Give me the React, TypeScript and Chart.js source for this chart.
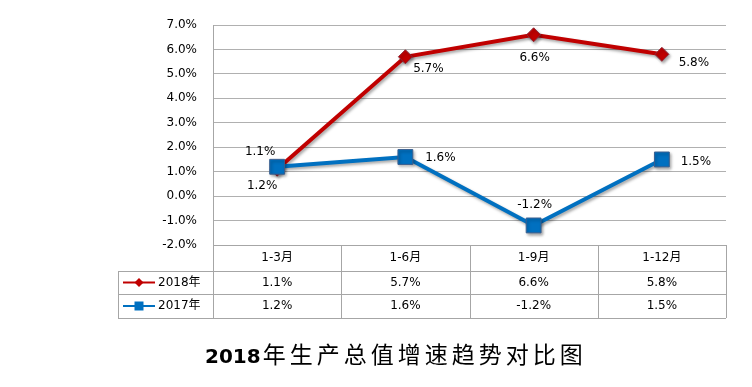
import React, { useEffect, useRef } from "react";
import { Chart, registerables } from "chart.js";

Chart.register(...registerables);

const categories = ["1-3月", "1-6月", "1-9月", "1-12月"];
const series2018 = [1.1, 5.7, 6.6, 5.8];
const series2017 = [1.2, 1.6, -1.2, 1.5];
const seriesNames = ["2018年", "2017年"];
const titleYear = "2018";
const titleRest = "年生产总值增速趋势对比图";

const RED = "#c00000";
const BLUE = "#0070c0";
const FONT = "'DejaVu Sans', 'Noto Sans CJK SC', sans-serif";

const fmt = (v: number) => v.toFixed(1) + "%";

const shadowPlugin = {
  id: "shadowPlugin",
  beforeDatasetDraw(chart: any) {
    const ctx = chart.ctx;
    ctx.save();
    ctx.shadowColor = "rgba(0,0,0,0.35)";
    ctx.shadowBlur = 3;
    ctx.shadowOffsetX = 1.5;
    ctx.shadowOffsetY = 2;
  },
  afterDatasetDraw(chart: any) {
    chart.ctx.restore();
  },
};

const pointLabelPlugin = {
  id: "pointLabels",
  afterDatasetsDraw(chart: any, _args: any, opts: any) {
    const ctx = chart.ctx;
    ctx.save();
    ctx.font = "12px " + FONT;
    ctx.fillStyle = "#000";
    ctx.textAlign = "center";
    ctx.textBaseline = "middle";
    chart.data.datasets.forEach((ds: any, di: number) => {
      const meta = chart.getDatasetMeta(di);
      const offs = opts.offsets[di];
      meta.data.forEach((pt: any, i: number) => {
        const [dx, dy] = offs[i];
        ctx.fillText(fmt(ds.data[i]), pt.x + dx, pt.y + dy);
      });
    });
    ctx.restore();
  },
};

const tablePlugin = {
  id: "dataTable",
  afterDraw(chart: any, _args: any, opts: any) {
    const ctx = chart.ctx;
    const xs = chart.scales.x;
    const area = chart.chartArea;
    const n = categories.length;
    const colW = (area.right - area.left) / n;
    const top = area.bottom;
    const rows = [top, top + 26, top + 49, top + 73];
    const legLeft = area.left - opts.legendWidth;
    ctx.save();
    ctx.strokeStyle = "#a6a6a6";
    ctx.lineWidth = 1;
    const hl = (y: number, x0: number, x1: number) => {
      ctx.beginPath();
      ctx.moveTo(x0, Math.round(y) + 0.5);
      ctx.lineTo(x1, Math.round(y) + 0.5);
      ctx.stroke();
    };
    const vl = (x: number, y0: number, y1: number) => {
      ctx.beginPath();
      ctx.moveTo(Math.round(x) + 0.5, y0);
      ctx.lineTo(Math.round(x) + 0.5, y1);
      ctx.stroke();
    };
    hl(rows[0], area.left, area.right);
    hl(rows[1], legLeft, area.right);
    hl(rows[2], legLeft, area.right);
    hl(rows[3], legLeft, area.right);
    vl(legLeft, rows[1], rows[3]);
    for (let i = 0; i <= n; i++) {
      vl(area.left + i * colW, rows[0], rows[3]);
    }
    ctx.font = "12px " + FONT;
    ctx.fillStyle = "#000";
    ctx.textAlign = "center";
    ctx.textBaseline = "middle";
    categories.forEach((c, i) => {
      const cx = xs.getPixelForValue(i);
      ctx.fillText(c, cx, (rows[0] + rows[1]) / 2);
    });
    chart.data.datasets.forEach((ds: any, di: number) => {
      const cy = (rows[di + 1] + rows[di + 2]) / 2;
      ds.data.forEach((v: number, i: number) => {
        ctx.fillText(fmt(v), xs.getPixelForValue(i), cy);
      });
      // legend key
      const lx0 = legLeft + 5;
      const lx1 = legLeft + 37;
      const mx = (lx0 + lx1) / 2;
      ctx.strokeStyle = ds.borderColor;
      ctx.lineWidth = 2;
      ctx.beginPath();
      ctx.moveTo(lx0, cy);
      ctx.lineTo(lx1, cy);
      ctx.stroke();
      ctx.fillStyle = ds.backgroundColor;
      ctx.beginPath();
      if (ds.pointStyle === "rectRot") {
        const r = 4.5;
        ctx.moveTo(mx, cy - r);
        ctx.lineTo(mx + r, cy);
        ctx.lineTo(mx, cy + r);
        ctx.lineTo(mx - r, cy);
        ctx.closePath();
      } else {
        ctx.rect(mx - 4.5, cy - 4.5, 9, 9);
      }
      ctx.fill();
      ctx.fillStyle = "#000";
      ctx.textAlign = "left";
      ctx.fillText(ds.label, lx1 + 3, cy);
      ctx.textAlign = "center";
    });
    ctx.restore();
  },
};

export default function App() {
  const ref = useRef<HTMLCanvasElement | null>(null);

  useEffect(() => {
    if (!ref.current) return;
    const chart = new Chart(ref.current, {
      type: "line",
      data: {
        labels: categories,
        datasets: [
          {
            label: seriesNames[0],
            data: series2018,
            borderColor: RED,
            backgroundColor: RED,
            borderWidth: 4,
            pointStyle: "rectRot",
            pointRadius: 7,
            pointBorderColor: "#8c2a3a",
            pointBorderWidth: 1,
            pointBackgroundColor: RED,
            order: 1,
            clip: false,
          } as any,
          {
            label: seriesNames[1],
            data: series2017,
            borderColor: BLUE,
            backgroundColor: BLUE,
            borderWidth: 4,
            pointStyle: "rect",
            pointRadius: 10.5,
            pointBorderColor: "#3a5f8f",
            pointBorderWidth: 1,
            pointBackgroundColor: BLUE,
            order: 0,
            clip: false,
          } as any,
        ],
      },
      options: {
        responsive: false,
        animation: false,
        events: [],
        layout: { padding: { top: 25, right: 26, bottom: 142, left: 0 } },
        scales: {
          x: { type: "category", display: false, offset: true },
          y: {
            min: -2,
            max: 7,
            afterFit: (s: any) => {
              s.width = 213;
            },
            ticks: {
              stepSize: 1,
              padding: 16,
              color: "#000",
              font: { family: FONT, size: 12 },
              callback: (v: any) => fmt(Number(v)),
            },
            grid: { color: "#b0b0b0", drawTicks: false, lineWidth: 1 },
            border: { display: true, color: "#a6a6a6" },
          },
        },
        plugins: {
          legend: { display: false },
          tooltip: { enabled: false },
          title: { display: false },
          pointLabels: {
            offsets: [
              [[-17, -17], [23, 12], [1, 23], [32, 9]],
              [[-15, 19], [35, 1], [1, -21], [34, 2]],
            ],
          },
          dataTable: { legendWidth: 95 },
        } as any,
      },
      plugins: [shadowPlugin, pointLabelPlugin, tablePlugin],
    });
    return () => chart.destroy();
  }, []);

  return (
    <div style={{ position: "absolute", left: 0, top: 0, width: 752, height: 387, background: "#fff" }}>
      <canvas ref={ref} width={752} height={387} style={{ display: "block" }} />
      <div
        style={{
          position: "absolute",
          left: 205,
          top: 338,
          height: 30,
          lineHeight: "30px",
          whiteSpace: "nowrap",
          color: "#000",
        }}
      >
        <span style={{ fontFamily: "'DejaVu Sans', sans-serif", fontWeight: "bold", fontSize: 20 }}>{titleYear}</span>
        <span style={{ fontFamily: "'Noto Sans CJK SC', sans-serif", fontSize: 23, letterSpacing: 4, marginLeft: 2 }}>
          {titleRest}
        </span>
      </div>
    </div>
  );
}
